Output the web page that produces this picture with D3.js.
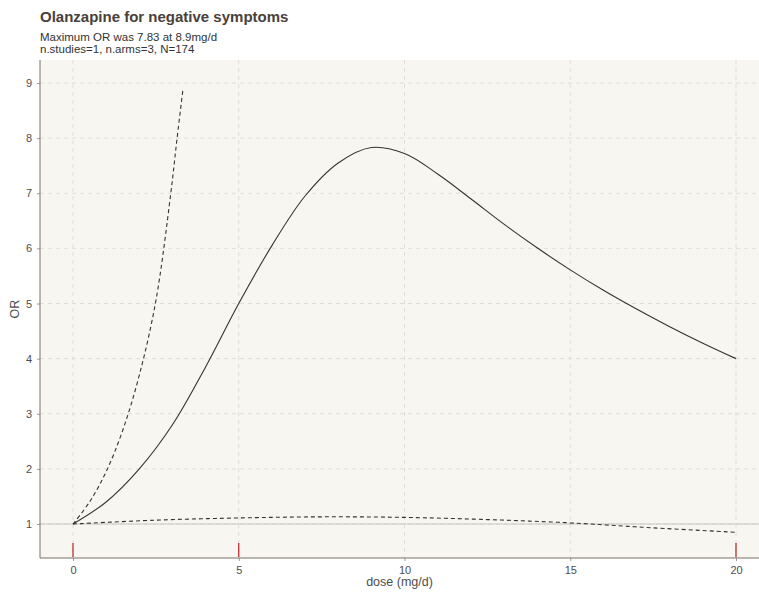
<!DOCTYPE html>
<html>
<head>
<meta charset="utf-8">
<script src="https://cdn.jsdelivr.net/npm/d3@7"></script>
<style>
  body { margin: 0; background: #fff; }
  svg { font-family: "Liberation Sans", Arial, sans-serif; }
</style>
</head>
<body>
<svg id="chart"></svg>
<script>
// dose-response curve (solid) and its confidence bounds (dashed)
const doses = [0, 1, 2, 3, 4, 5, 6, 7, 8, 9, 10, 11, 12, 13, 14, 15, 16, 17, 18, 19, 20];
const orFit = [1.0, 1.4, 2.0, 2.8, 3.85, 5.0, 6.05, 6.95, 7.55, 7.83, 7.72, 7.35, 6.9, 6.44, 6.01, 5.61, 5.24, 4.9, 4.58, 4.28, 4.0];

const upperDoses = [0, 0.5, 1, 1.5, 2, 2.5, 2.95, 3.14, 3.32];
const upperOR = [1.0, 1.4, 1.95, 2.7, 3.7, 5.05, 7.0, 8.0, 8.9];

const lowerDoses = [0, 2.5, 5, 7.5, 10, 12.5, 15, 17.5, 20];
const lowerOR = [1.0, 1.07, 1.11, 1.13, 1.12, 1.08, 1.02, 0.93, 0.85];

const rugDoses = [0, 5, 20];
const xTicks = [0, 5, 10, 15, 20];
const yTicks = [1, 2, 3, 4, 5, 6, 7, 8, 9];

const title = "Olanzapine for negative symptoms";
const subtitle = ["Maximum OR was 7.83 at 8.9mg/d", "n.studies=1, n.arms=3, N=174"];

const width = 759, height = 596;
const panel = { left: 40, top: 60, right: 759, bottom: 558 };

const svg = d3.select("#chart")
    .attr("width", width)
    .attr("height", height);

const x = d3.scaleLinear()
    .domain([0, 20])
    .range([73, 736]);
const y = d3.scaleLinear()
    .domain([1, 9])
    .range([524, 83]);

// panel background
svg.append("rect")
    .attr("x", panel.left)
    .attr("y", panel.top)
    .attr("width", panel.right - panel.left)
    .attr("height", panel.bottom - panel.top)
    .attr("fill", "#f8f6f1");

// grid
const grid = svg.append("g");
grid.selectAll(".gx")
    .data(xTicks)
    .join("line")
    .attr("x1", d => x(d)).attr("x2", d => x(d))
    .attr("y1", panel.top).attr("y2", panel.bottom)
    .attr("stroke", "#e2ddd5")
    .attr("stroke-dasharray", "4,4");
grid.selectAll(".gy")
    .data(yTicks)
    .join("line")
    .attr("x1", panel.left).attr("x2", panel.right)
    .attr("y1", d => y(d)).attr("y2", d => y(d))
    .attr("stroke", "#e2ddd5")
    .attr("stroke-dasharray", "4,4");

// reference line at OR = 1
svg.append("line")
    .attr("x1", panel.left).attr("x2", panel.right)
    .attr("y1", y(1)).attr("y2", y(1))
    .attr("stroke", "#c9c6c2")
    .attr("stroke-width", 1);

// axes
const xAxis = svg.append("g")
    .attr("transform", `translate(0, ${panel.bottom})`)
    .call(d3.axisBottom(x).tickValues(xTicks).tickSize(3).tickPadding(5));
const yAxis = svg.append("g")
    .attr("transform", `translate(${panel.left}, 0)`)
    .call(d3.axisLeft(y).tickValues(yTicks).tickSize(3).tickPadding(5));

[xAxis, yAxis].forEach(ax => {
    ax.select(".domain").remove();
    ax.selectAll(".tick line").attr("stroke", "#9a9a9a");
    ax.selectAll(".tick text")
        .attr("fill", "#4d4d4d")
        .attr("font-size", 11)
        .attr("font-family", "Liberation Sans, Arial, sans-serif");
});

svg.append("line")
    .attr("x1", panel.left).attr("x2", panel.left)
    .attr("y1", panel.top).attr("y2", panel.bottom)
    .attr("stroke", "#7d7169");
svg.append("line")
    .attr("x1", panel.left).attr("x2", panel.right)
    .attr("y1", panel.bottom).attr("y2", panel.bottom)
    .attr("stroke", "#7d7169");

// curves
const line = d3.line()
    .x(d => x(d[0]))
    .y(d => y(d[1]))
    .curve(d3.curveCatmullRom.alpha(0.5));

svg.append("path")
    .datum(d3.zip(upperDoses, upperOR))
    .attr("d", line)
    .attr("fill", "none")
    .attr("stroke", "#333")
    .attr("stroke-width", 1.1)
    .attr("stroke-dasharray", "4,3");

svg.append("path")
    .datum(d3.zip(lowerDoses, lowerOR))
    .attr("d", line)
    .attr("fill", "none")
    .attr("stroke", "#333")
    .attr("stroke-width", 1.1)
    .attr("stroke-dasharray", "4,3");

svg.append("path")
    .datum(d3.zip(doses, orFit))
    .attr("d", line)
    .attr("fill", "none")
    .attr("stroke", "#333")
    .attr("stroke-width", 1.1);

// rug
svg.append("g").selectAll("line")
    .data(rugDoses)
    .join("line")
    .attr("x1", d => x(d)).attr("x2", d => x(d))
    .attr("y1", panel.bottom - 15).attr("y2", panel.bottom - 1)
    .attr("stroke", "#b22222")
    .attr("stroke-width", 1.2);

// labels
svg.append("text")
    .attr("x", panel.left + (panel.right - panel.left) / 2)
    .attr("y", 586)
    .attr("text-anchor", "middle")
    .attr("font-size", 12.5)
    .attr("fill", "#4d4d4d")
    .text("dose (mg/d)");

svg.append("text")
    .attr("transform", `translate(19, ${(panel.top + panel.bottom) / 2}) rotate(-90)`)
    .attr("text-anchor", "middle")
    .attr("font-size", 12.5)
    .attr("fill", "#4d4d4d")
    .text("OR");

svg.append("text")
    .attr("x", panel.left)
    .attr("y", 22)
    .attr("font-size", 15)
    .attr("font-weight", "bold")
    .attr("fill", "#4a403a")
    .text(title);

svg.selectAll(".sub")
    .data(subtitle)
    .join("text")
    .attr("x", panel.left)
    .attr("y", (d, i) => 41 + i * 12)
    .attr("font-size", 11.5)
    .attr("fill", "#333")
    .text(d => d);
</script>
</body>
</html>
